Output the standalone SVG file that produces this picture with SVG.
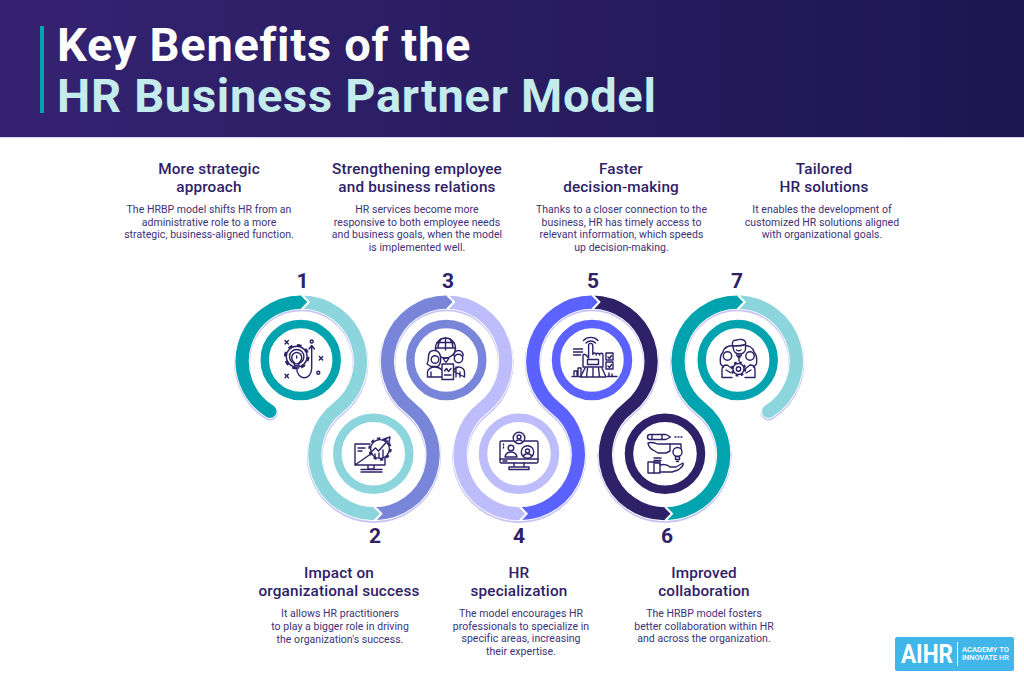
<svg xmlns="http://www.w3.org/2000/svg" width="1024" height="680" viewBox="0 0 1024 680">
<style>
text{font-family:"Roboto","Liberation Sans",sans-serif;text-anchor:middle}
.h{font-size:15.3px;font-weight:500;fill:#2e2168;letter-spacing:.15px}
.b{font-size:10.5px;fill:#3d3178;letter-spacing:.04px}
.n{font-size:21px;font-weight:700;fill:#2e2168}
.t{font-size:47px;font-weight:700;text-anchor:start;letter-spacing:.72px}
.band{fill:none;stroke-width:13.2}
.ring{fill:#fff;stroke-width:8.5}
.ic{fill:none;stroke:#2e2168;stroke-width:1.4;stroke-linecap:round;stroke-linejoin:round}
.teeth{stroke-width:2.4;stroke-linecap:butt}
</style>
<defs>
<linearGradient id="hdr" x1="0" x2="1" y1="0" y2="0"><stop offset="0" stop-color="#352372"/><stop offset="1" stop-color="#1d1650"/></linearGradient>
<polygon id="tip" points="-0.6,-6.6 6,0 -0.6,6.6"/>
<polygon id="gap" points="-0.6,-7.6 1.6,-7.6 8.8,0 1.6,7.6 -0.6,7.6" fill="#fff"/>
<path id="all" d="M269.95 411.37A59.16 59.16 0 0 1 301.3 302.04A59.16 59.16 0 0 1 337.63 407.9A59.16 59.16 0 0 0 373.95 513.76A59.16 59.16 0 0 0 410.28 407.9A59.16 59.16 0 0 1 446.6 302.04A59.16 59.16 0 0 1 482.93 407.9A59.16 59.16 0 0 0 519.25 513.76A59.16 59.16 0 0 0 555.58 407.9A59.16 59.16 0 0 1 591.9 302.04A59.16 59.16 0 0 1 628.23 407.9A59.16 59.16 0 0 0 664.55 513.76A59.16 59.16 0 0 0 700.88 407.9A59.16 59.16 0 0 1 737.2 302.04A59.16 59.16 0 0 1 768.55 411.37"/>
</defs>
<rect width="1024" height="680" fill="#fff"/>
<g id="header">
<rect width="1024" height="137" fill="url(#hdr)"/>
<rect y="137" width="1024" height="1" fill="#d5d2ee"/>
<rect x="40" y="26" width="4" height="87" fill="#00a3ae"/>
<text class="t" x="57" y="61" fill="#fff">Key Benefits of the</text>
<text class="t" x="57" y="112" fill="#c5ecec">HR Business Partner Model</text>
</g>
<g id="connectors">
<use href="#all" transform="translate(0,1.3)" fill="none" stroke="#c6c4f5" stroke-width="15.8" stroke-linecap="round"/>
<use href="#all" fill="none" stroke="#fff" stroke-width="15" stroke-linecap="round"/>
<circle cx="768.55" cy="411.37" r="6.6" fill="#8dd5dc"/>
<path class="band" stroke="#8dd5dc" d="M737.2 302.04A59.16 59.16 0 0 1 768.55 411.37"/>
<use href="#gap" x="737.2" y="302.04"/>
<path class="band" stroke="#00a3ae" d="M664.55 513.76A59.16 59.16 0 0 0 700.88 407.9A59.16 59.16 0 0 1 737.2 302.04"/>
<use href="#tip" x="737.2" y="302.04" fill="#00a3ae"/>
<use href="#gap" x="664.55" y="513.76"/>
<path class="band" stroke="#2e2168" d="M591.9 302.04A59.16 59.16 0 0 1 628.23 407.9A59.16 59.16 0 0 0 664.55 513.76"/>
<use href="#tip" x="664.55" y="513.76" fill="#2e2168"/>
<use href="#gap" x="591.9" y="302.04"/>
<path class="band" stroke="#5c62ff" d="M519.25 513.76A59.16 59.16 0 0 0 555.58 407.9A59.16 59.16 0 0 1 591.9 302.04"/>
<use href="#tip" x="591.9" y="302.04" fill="#5c62ff"/>
<use href="#gap" x="519.25" y="513.76"/>
<path class="band" stroke="#bdbdfb" d="M446.6 302.04A59.16 59.16 0 0 1 482.93 407.9A59.16 59.16 0 0 0 519.25 513.76"/>
<use href="#tip" x="519.25" y="513.76" fill="#bdbdfb"/>
<use href="#gap" x="446.6" y="302.04"/>
<path class="band" stroke="#7885d9" d="M373.95 513.76A59.16 59.16 0 0 0 410.28 407.9A59.16 59.16 0 0 1 446.6 302.04"/>
<use href="#tip" x="446.6" y="302.04" fill="#7885d9"/>
<use href="#gap" x="373.95" y="513.76"/>
<path class="band" stroke="#8dd5dc" d="M301.3 302.04A59.16 59.16 0 0 1 337.63 407.9A59.16 59.16 0 0 0 373.95 513.76"/>
<use href="#tip" x="373.95" y="513.76" fill="#8dd5dc"/>
<use href="#gap" x="301.3" y="302.04"/>
<path class="band" stroke="#00a3ae" d="M269.95 411.37A59.16 59.16 0 0 1 301.3 302.04"/>
<use href="#tip" x="301.3" y="302.04" fill="#00a3ae"/>
<circle cx="269.95" cy="411.37" r="6.6" fill="#00a3ae"/>
</g>
<g id="node1">
<text class="h" x="209" y="174">More strategic</text><text class="h" x="209" y="192">approach</text>
<text class="b" x="209" y="213">The HRBP model shifts HR from an</text><text class="b" x="209" y="226">administrative role to a more</text><text class="b" x="209" y="238">strategic, business-aligned function.</text>
<text class="n" x="302.5" y="288">1</text>
<circle class="ring" cx="300.7" cy="360" r="36" stroke="#00a3ae"/>
<g class="ic">
<circle class="teeth" cx="296.7" cy="356.7" r="11.6" stroke-dasharray="4.55 4.55"/>
<circle cx="296.7" cy="356.7" r="10.4" fill="#fff"/><circle cx="296.7" cy="356.7" r="7.2"/>
<path d="M294.4 365.5v-3c-1.700-1-2.700-3-2.700-5a5 5 0 0 1 10 0c0 2-1 4-2.700 5v3zM296.700 358v-2M294.700 368h4"/>
<path d="M296.700 368c0 13 15 13 15 0v-21.500M309 349l2.700-3.500 2.700 3.500"/>
<path d="M285 340.600l3.400 3.400M288.400 340.600l-3.400 3.400M319.300 356.600l3.400 3.400M322.700 356.600l-3.400 3.400M285 374.300l3.400 3.400M288.400 374.300l-3.400 3.400"/>
<circle cx="311.700" cy="341.500" r="1.500"/><circle cx="318.300" cy="372.700" r="1.500"/>
</g>
</g>
<g id="node2">
<text class="h" x="339" y="578">Impact on</text><text class="h" x="339" y="596">organizational success</text>
<text class="b" x="340" y="617">It allows HR practitioners</text><text class="b" x="340" y="630">to play a bigger role in driving</text><text class="b" x="340" y="643">the organization's success.</text>
<text class="n" x="375" y="543">2</text>
<circle class="ring" cx="373.300" cy="453.700" r="36" stroke="#8dd5dc"/>
<g class="ic">
<path d="M370 444h-15v21h30v-8M355 465l20-14M358 448h7M358 451h4M368 465v4h6v-4M361 469.500h21M361 472h21"/>
<circle class="teeth" cx="380" cy="449" r="10.500" stroke-dasharray="3.300 3.300"/>
<circle cx="380" cy="449" r="9.400" fill="#fff"/>
<path d="M370 453l5.500-5 3 3 9-10M383 439.500l7-2.500-1.500 7.500M375 458v-4M379 458v-5M383 458v-8"/>
</g>
</g>
<g id="node3">
<text class="h" x="417" y="174">Strengthening employee</text><text class="h" x="417" y="192">and business relations</text>
<text class="b" x="417" y="213">HR services become more</text><text class="b" x="417" y="226">responsive to both employee needs</text><text class="b" x="417" y="238">and business goals, when the model</text><text class="b" x="417" y="251">is implemented well.</text>
<text class="n" x="448" y="288">3</text>
<circle class="ring" cx="446.300" cy="360" r="36" stroke="#7885d9"/>
<g class="ic">
<circle cx="445.500" cy="348" r="10"/><path d="M435.500 348h20M445.500 338v12M441 339c-2.500 3-3 7-3 9M450 339c2.500 3 3 7 3 9M437 342.500h17"/>
<path d="M434 350.500c-4 0-5.500 3-5.500 6.500 0 3-.5 5-1.500 7l4 2.500h7c3-3 3-6 2.500-9.500-.5-4-3-6.500-6.500-6.500z" fill="#fff"/>
<circle cx="435" cy="359.500" r="3.800" fill="#fff"/>
<path d="M454 356c-.5-3 2-5.500 4.500-5.500s5 2 4.500 5.500" fill="#fff"/><circle cx="458.500" cy="358.500" r="4.200" fill="#fff"/>
<path d="M427.500 377v-5c0-3 4-5 7.500-5s5 1 7 3M453 371c2-3 3.500-4 5.500-4 3.500 0 6 2.500 6 5v5zM427.500 377h15M431 377v-5M460 377v-5M456 367v10"/>
<rect x="442" y="364" width="11.500" height="15.500" fill="#fff"/><path d="M444.500 371l2-2.500 2 3 2.500-3M444.500 375h6.500"/>
<path d="M443 358l2.500 4h1l2.500-4z"/>
</g>
</g>
<g id="node4">
<text class="h" x="519" y="578">HR</text><text class="h" x="519" y="596">specialization</text>
<text class="b" x="521" y="617">The model encourages HR</text><text class="b" x="521" y="630">professionals to specialize in</text><text class="b" x="521" y="642">specific areas, increasing</text><text class="b" x="521" y="655">their expertise.</text>
<text class="n" x="519" y="543">4</text>
<circle class="ring" cx="519" cy="453.700" r="36" stroke="#bdbdfb"/>
<g class="ic">
<rect x="500" y="441" width="38" height="22" rx="1.500"/><path d="M500 459h38M514 463v4M524 463v4M509 469.500h20v-2.500h-20z"/><path d="M503 461h4"/>
<circle cx="519" cy="438" r="5.800" fill="#fff"/><circle cx="519" cy="437" r="2"/><path d="M515.500 441.500c1-2 6-2 7 0"/>
<circle cx="511" cy="448" r="2.800"/><path d="M505 457c0-3 3-5 6-5s6 2 6 5z"/>
<circle cx="527.500" cy="452" r="6.200" fill="#fff"/><circle cx="527.500" cy="451" r="2"/><path d="M523.500 456c1-3 7-3 8 0"/>
<path d="M503.500 444v1M503.500 447v1"/>
</g>
</g>
<g id="node5">
<text class="h" x="621" y="174">Faster</text><text class="h" x="621" y="192">decision-making</text>
<text class="b" x="621.500" y="213">Thanks to a closer connection to the</text><text class="b" x="621.500" y="226">business, HR has timely access to</text><text class="b" x="621.500" y="238">relevant information, which speeds</text><text class="b" x="621.500" y="251">up decision-making.</text>
<text class="n" x="593" y="288">5</text>
<circle class="ring" cx="592" cy="360" r="36" stroke="#5c62ff"/>
<g class="ic">
<path d="M586 343a6.500 6.500 0 0 1 9.500 0M583.500 340.500a10 10 0 0 1 14.500 0"/>
<path d="M583 355v12h20v-12a1.700 1.700 0 0 0-3.400 0 1.700 1.700 0 0 0-3.400 0 1.700 1.700 0 0 0-3.400-.5v-9a2.100 2.100 0 0 0-4.200 0v12.500l-2.500-3c-1.200-1-3-.3-3.100 0z"/>
<rect x="587.500" y="359.500" width="11" height="5"/>
<path d="M585 368l-4.500 9h25.500l-4-9M581 377h25M587.500 368l-1 9M593 368v9M598.500 368l1 9"/>
<path d="M573.500 349h9M573.500 352h9M573.500 355h7M574 375v-4h3v4M578 375v-7h3v7M572 376.500h9M607 376.500h10M609 376v-3M612 376v-2"/>
<rect x="606" y="353" width="7" height="7"/><rect x="606" y="362" width="7" height="7"/><path d="M608 357l1.500 1.500 2-3M608 366l1.500 1.500 2-3"/>
</g>
</g>
<g id="node6">
<text class="h" x="704" y="578">Improved</text><text class="h" x="704" y="596">collaboration</text>
<text class="b" x="704" y="617">The HRBP model fosters</text><text class="b" x="704" y="630">better collaboration within HR</text><text class="b" x="704" y="642">and across the organization.</text>
<text class="n" x="667" y="543">6</text>
<circle class="ring" cx="665" cy="453.700" r="36" stroke="#2e2168"/>
<g class="ic">
<path d="M650 434.500h16l4.500 2.500-4.500 2.500h-16a2.500 2.500 0 0 1 0-5zM652 434.500v5M662 434.500v5M675 437h1M678 437h1M681 437h1"/>
<path d="M648 443c3-1.500 7 0 10 1l12 0v7l-4 2h-8l-5-3c-2-1-5-4-5-7z" fill="#fff"/>
<path d="M670 444h11v9h-5"/>
<circle cx="677.500" cy="452" r="4.500" fill="#fff"/><path d="M675.500 456.500h4v3h-4zM676.500 461.500h2"/>
<path d="M654 458h7M654 460.500h7M655 463h5"/>
<rect x="648" y="462" width="12" height="11"/><path d="M654 462v11M660 465c4-1 8 0 10 2h6l7-4c1 2-2 5-5 7l-6 2h-12"/>
</g>
</g>
<g id="node7">
<text class="h" x="824" y="174">Tailored</text><text class="h" x="824" y="192">HR solutions</text>
<text class="b" x="822" y="213">It enables the development of</text><text class="b" x="822" y="226">customized HR solutions aligned</text><text class="b" x="822" y="238">with organizational goals.</text>
<text class="n" x="737" y="288">7</text>
<circle class="ring" cx="737.700" cy="360" r="36" stroke="#00a3ae"/>
<g class="ic">
<path d="M723 352c1-5 7-7 10-6M754 352c-1-5-6-7-10-6M723 352c-3 3-3 8-2.500 12l3 3M754 352c3 3 3 8 2.500 12l-3 3"/>
<path d="M732.500 345c-1-4 2-5 4-5 3-1 8-1 9 2 .5 1 0 2 0 3v4c0 3-3 5-6 5s-6-2-6-5z" fill="#fff"/><path d="M733 346c4 0 9 0 12-1.500M736.500 350c1.500 1 3 1 4.500 0"/>
<circle cx="727.500" cy="356" r="4.200" fill="#fff"/><circle cx="750" cy="356" r="4.200" fill="#fff"/>
<path d="M722 377v-7c0-3 2-5 5-5l6 4M755 377v-7c0-3-2-5-5-5l-5 4M722 377.500h10M745 377.500h10M739 354v7M736.500 355l2.500 3 2.500-3M726 370l5 3M751 370l-5 3"/>
<circle class="teeth" cx="738.500" cy="369" r="6.500" stroke-dasharray="2.550 2.550"/>
<circle cx="738.500" cy="369" r="5.500" fill="#fff"/><circle cx="738.500" cy="369" r="2.200"/>
</g>
</g>
<g id="logo">
<rect x="895" y="637" width="119" height="34" rx="2" fill="#41b6e9"/>
<text x="901" y="663" textLength="52" lengthAdjust="spacingAndGlyphs" style="font-size:26px;font-weight:700;text-anchor:start" fill="#fff">AIHR</text>
<rect x="957" y="642" width="1" height="24" fill="#fff"/>
<text x="962" y="652" textLength="47" lengthAdjust="spacingAndGlyphs" style="font-size:7px;font-weight:500;text-anchor:start" fill="#fff">ACADEMY TO</text>
<text x="962" y="660" textLength="47" lengthAdjust="spacingAndGlyphs" style="font-size:7px;font-weight:500;text-anchor:start" fill="#fff">INNOVATE HR</text>
</g>
</svg>
